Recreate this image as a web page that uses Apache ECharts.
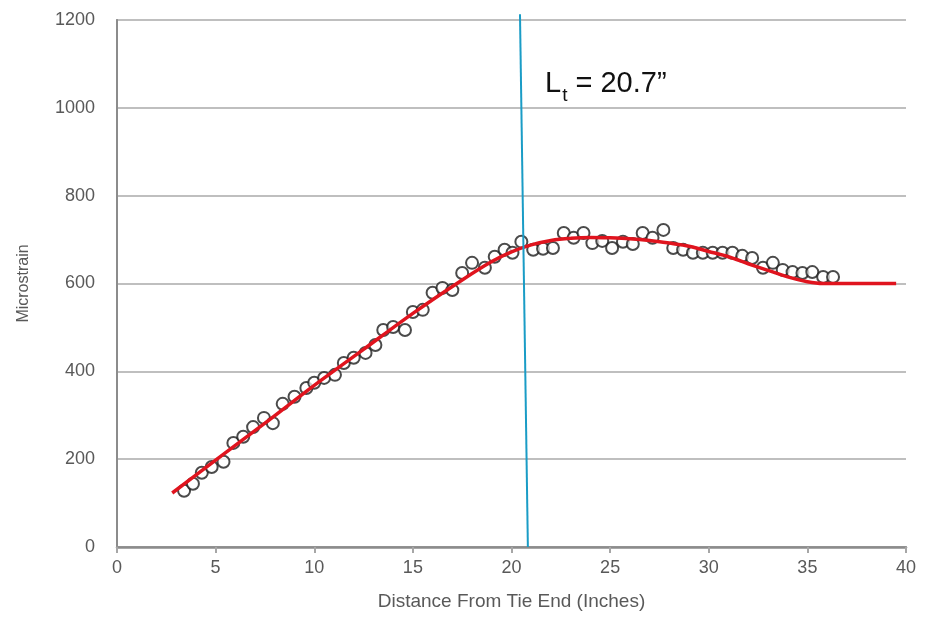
<!DOCTYPE html>
<html>
<head>
<meta charset="utf-8">
<script src="https://cdn.jsdelivr.net/npm/echarts@6/dist/echarts.min.js"></script>
<style>
html,body{margin:0;padding:0;background:#fff;}
#chart{width:927px;height:629px;}
</style>
</head>
<body>
<div id="chart"></div>
<script>
// Measured strain (circles)
const measX = [3.4,3.85,4.3,4.8,5.4,5.9,6.4,6.9,7.45,7.9,8.4,9.0,9.6,10.0,10.5,11.05,11.5,12.0,12.6,13.1,13.5,14.0,14.6,15.0,15.5,16.0,16.5,17.0,17.5,18.0,18.65,19.15,19.65,20.05,20.5,21.1,21.6,22.1,22.65,23.15,23.65,24.1,24.6,25.1,25.65,26.15,26.65,27.15,27.7,28.2,28.7,29.2,29.7,30.2,30.7,31.2,31.7,32.2,32.75,33.25,33.75,34.25,34.75,35.25,35.8,36.3];
const measY = [128,144,169,182,194,237,251,273,294,282,326,342,362,374,385,392,419,431,442,460,494,501,494,535,540,579,590,585,624,647,636,661,677,670,695,677,679,681,715,704,715,692,697,681,695,690,715,704,722,681,677,670,670,670,670,670,663,658,636,647,631,626,624,626,615,615];
// Fitted curve (red)
const fitX = [2.8,5,7.5,10,12.5,15,17.5,19,20,21,22,23,24,25,26,27,28,29,30,31,32,33,34,35,35.8,39.5];
const fitY = [123,198,282,368,450,532,608,650,672,688,698,703,705,704,702,698,692,685,673,661,645,630,615,604,600,600];
// Transfer length marker (blue)
const ltX = [20.43,20.83];
const ltY = [1213,0];
// Axis ticks
const xTicks = [0,5,10,15,20,25,30,35,40];
const yTicks = [0,200,400,600,800,1000,1200];

const FONT = "'Liberation Sans',Arial,sans-serif";
const chart = echarts.init(document.getElementById('chart'), null, {renderer:'canvas'});
const zip = (a,b)=>a.map((v,i)=>[v,b[i]]);

chart.setOption({
  animation:false,
  backgroundColor:'#ffffff',
  title:{
    left:540, top:64,
    text:'{a|L}{s|t}{a| = 20.7\u201D}',
    textStyle:{
      fontWeight:'normal',
      rich:{
        a:{fontFamily:FONT,fontSize:29,fontWeight:'normal',color:'#111',verticalAlign:'bottom'},
        s:{fontFamily:FONT,fontSize:19,fontWeight:'normal',color:'#111',verticalAlign:'bottom',padding:[0,0,-7,1]}
      }
    }
  },
  grid:{left:117,right:21,top:20,bottom:82},
  xAxis:[{
    type:'value',
    min:xTicks[0], max:xTicks[xTicks.length-1], interval:xTicks[1]-xTicks[0],
    name:'Distance From Tie End (Inches)',
    nameLocation:'middle', nameGap:45,
    nameTextStyle:{fontFamily:FONT,fontSize:19,color:'#595959'},
    axisLine:{show:true,lineStyle:{color:'#a6a6a6',width:2}},
    axisTick:{show:true,length:6,lineStyle:{color:'#a6a6a6',width:2}},
    axisLabel:{fontFamily:FONT,fontSize:18,color:'#595959',margin:12},
    splitLine:{show:false}
  },{
    type:'value', position:'top',
    min:xTicks[0], max:xTicks[xTicks.length-1],
    axisLine:{show:true,lineStyle:{color:'#8c8c8c',width:2.5}},
    axisTick:{show:false}, axisLabel:{show:false}, splitLine:{show:false}
  }],
  yAxis:[{
    type:'value',
    min:yTicks[0], max:yTicks[yTicks.length-1], interval:yTicks[1]-yTicks[0],
    name:'Microstrain',
    nameLocation:'middle', nameGap:85,
    nameTextStyle:{fontFamily:FONT,fontSize:16,color:'#595959'},
    axisLine:{show:true,lineStyle:{color:'#a6a6a6',width:2}},
    axisTick:{show:false},
    axisLabel:{fontFamily:FONT,fontSize:18,color:'#595959',margin:22,formatter:v=>String(v)},
    splitLine:{show:true,lineStyle:{color:'#bfbfbf',width:2}}
  },{
    type:'value', position:'right',
    min:yTicks[0], max:yTicks[yTicks.length-1],
    axisLine:{show:true,lineStyle:{color:'#8c8c8c',width:2}},
    axisTick:{show:false}, axisLabel:{show:false}, splitLine:{show:false}
  }],
  series:[{
    type:'scatter',
    data:zip(measX,measY),
    symbol:'circle', symbolSize:12,
    itemStyle:{color:'rgba(255,255,255,0.85)',borderColor:'#1e1e1e',borderWidth:2},
    z:2
  },{
    type:'line',
    data:zip(fitX,fitY),
    smooth:0.3, showSymbol:false, symbol:'none',
    lineStyle:{color:'#e0141e',width:3.5},
    z:3
  },{
    type:'line',
    data:zip(ltX,ltY),
    showSymbol:false, symbol:'none', clip:false,
    lineStyle:{color:'#1a9cc6',width:2},
    z:4
  }]
});
</script>
</body>
</html>
